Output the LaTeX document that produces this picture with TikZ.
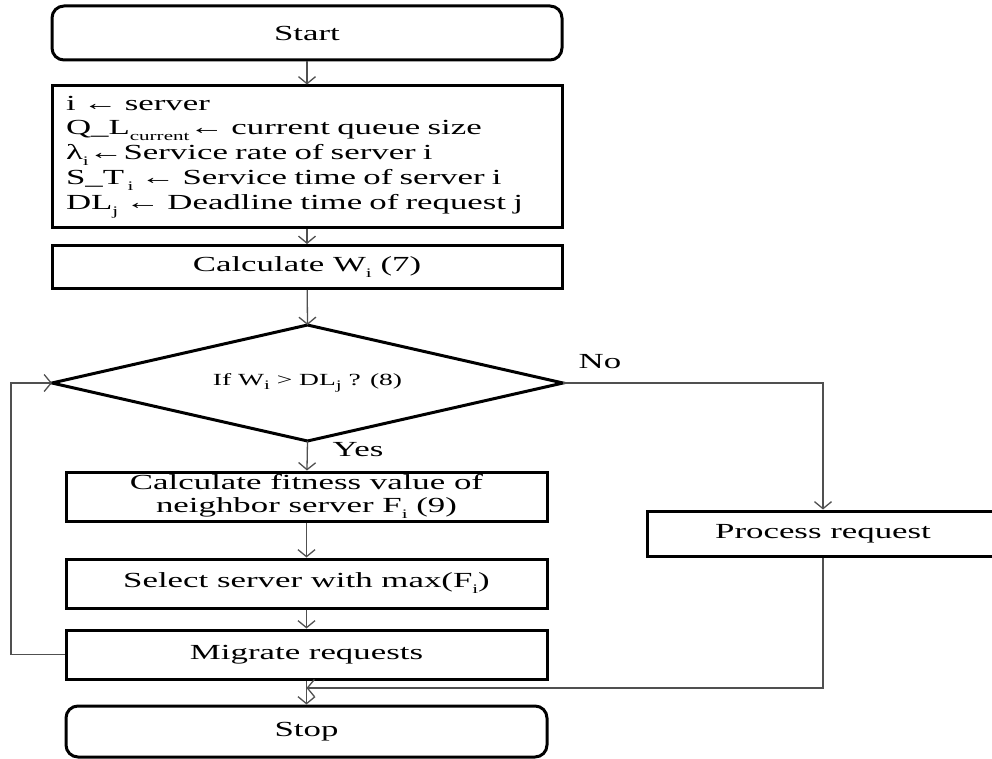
\documentclass[tikz,border=0pt]{standalone}
\usepackage{fontspec}
\setmainfont{Liberation Serif}[FakeStretch=1.62]
\usetikzlibrary{arrows.meta}
\definecolor{linegray}{RGB}{80,80,80}
% small lowered text used for subscripts
\newcommand{\lowtxt}[1]{\raisebox{-0.28em}{\fontsize{13}{13}\selectfont #1}}

\begin{document}
\begin{tikzpicture}[x=1pt,y=-1pt,
  mainfont/.style={font=\fontsize{21.5}{24.8}\selectfont},
  box/.style={draw=black, line width=3pt, rectangle, inner sep=0pt,
    align=center, mainfont},
  widebox/.style={box, minimum width=510pt},
  narrowbox/.style={box, minimum width=481pt, minimum height=49pt},
  terminal/.style={rounded corners=12pt},
  outline/.style={draw=black, line width=3pt, line join=miter},
  conn/.style={draw=linegray, line width=1.3pt,
    -{Straight Barb[length=7pt,width=17pt,line width=1.3pt]}},
  lbl/.style={inner sep=0pt, mainfont}
]
\path[use as bounding box] (0,0) rectangle (992,759);
\clip (0,0) rectangle (992,759);

% process column
\node[widebox, terminal, minimum height=54pt] (start) at (307,33) {Start};
\node[widebox, minimum height=142pt, text width=482pt, align=left] (info) at (307,157)
  {i ← server\\
   Q\_L\lowtxt{current}← current queue size\\
   λ\lowtxt{i}←Service rate of server i\\
   S\_T\,\lowtxt{i} ← Service time of server i\\
   DL\lowtxt{j} ← Deadline time of request j};
\node[widebox, minimum height=43pt] (calcw) at (307,267) {Calculate W\lowtxt{i} (7)};

% decision diamond: corners and centred text
\coordinate (dec-n) at (307.5,325);
\coordinate (dec-e) at (563,383);
\coordinate (dec-s) at (307.5,441);
\coordinate (dec-w) at (52,383);
\draw[outline] (dec-n) -- (dec-e) -- (dec-s) -- (dec-w) -- cycle;
\node[inner sep=0pt, font=\fontsize{17}{20}\selectfont] (dec) at (307.5,383)
  {If W\lowtxt{i} > DL\lowtxt{j} ? (8)};

\node[narrowbox, font=\fontsize{21.5}{22.5}\selectfont] (fit) at (306.5,496.5)
  {Calculate fitness value of\\ neighbor server F\lowtxt{i} (9)};
\node[narrowbox] (sel) at (306.5,583.5) {Select server with max(F\lowtxt{i})};
\node[narrowbox] (mig) at (306.5,654.5) {Migrate requests};
\node[narrowbox, terminal, minimum height=51pt] (stop) at (306.5,731.5) {Stop};
\node[box, minimum width=352pt, minimum height=45pt] (proc) at (823,533.5) {Process request};

% branch labels
\node[lbl] (yes) at (358,450) {Yes};
\node[lbl] (no) at (600,362) {No};

% helper points for the loop and the join
\coordinate (loopc) at (11,654.5);
\coordinate (join) at (306.5,688);

% connectors
\draw[conn] (start) -- (info);
\draw[conn] (info) -- (calcw);
\draw[conn] (calcw) -- (dec-n);
\draw[conn] (dec-s) -- (fit);
\draw[conn] (fit) -- (sel);
\draw[conn] (sel) -- (mig);
\draw[conn] (mig) -- (stop);
\draw[conn] (dec-e) -| (proc.north);
\draw[conn] (proc.south) |- (join);
\draw[conn] (mig.west) -- (loopc) |- (dec-w);
\end{tikzpicture}
\end{document}
